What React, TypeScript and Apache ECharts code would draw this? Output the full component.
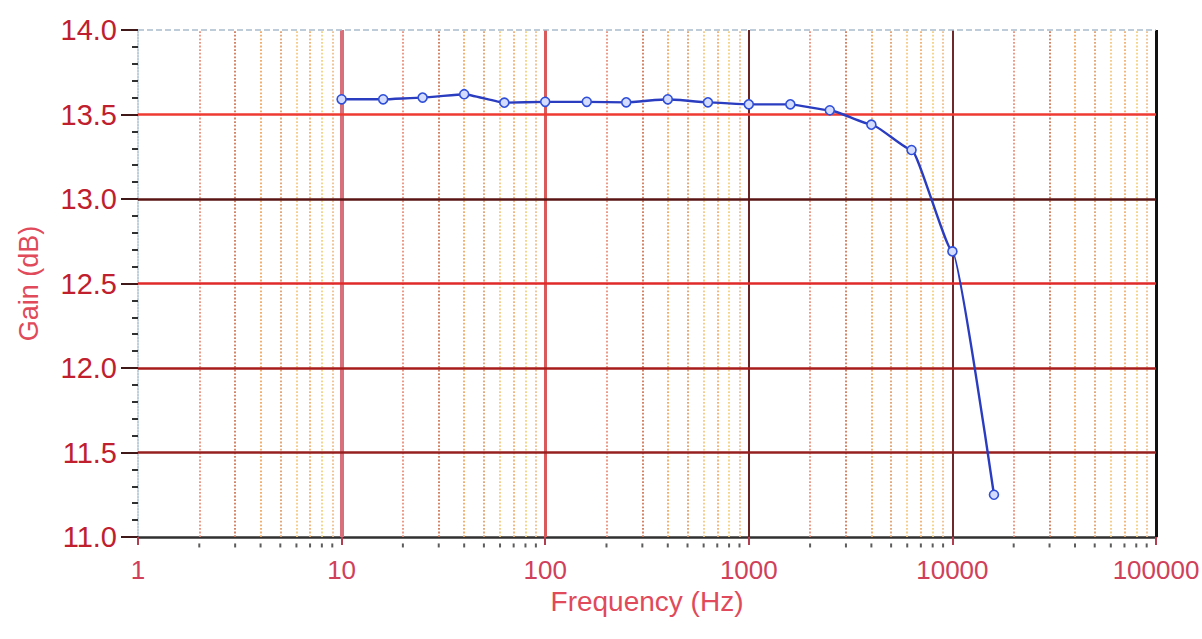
import React, { useEffect, useRef } from "react";
import * as echarts from "echarts";

const frequencies = [10, 16, 25, 40, 63, 100, 160, 250, 400, 630, 1000, 1600, 2500, 4000, 6300, 10000, 16000];
const gains = [13.59, 13.59, 13.6, 13.62, 13.57, 13.575, 13.575, 13.572, 13.59, 13.572, 13.56, 13.56, 13.525, 13.44, 13.29, 12.69, 11.25];

const decades = [1, 10, 100, 1000, 10000];
const multipliers = [2, 3, 4, 5, 6, 7, 8, 9];
const gainLevels = [11.5, 12.0, 12.5, 13.0, 13.5, 14.0];

const FONT = "'Liberation Sans', Arial, sans-serif";

const minorColors: Record<number, string> = {
  2: "#e8907a",
  3: "#d07858",
  4: "#f0a860",
  5: "#e0a070",
  6: "#f4c880",
  7: "#f0b070",
  8: "#f4d080",
  9: "#eec090",
};

const majorVertical: Record<number, { color: string; width: number }> = {
  10: { color: "#d8707c", width: 4 },
  100: { color: "#d85a5a", width: 3 },
  1000: { color: "#6a2424", width: 2 },
  10000: { color: "#6e2a2a", width: 2 },
};

const horizontalStyle: Record<string, { color: string; width: number; type?: string }> = {
  "11.5": { color: "#962020", width: 2.5 },
  "12": { color: "#a81c1c", width: 2.5 },
  "12.5": { color: "#e02a2a", width: 2.5 },
  "13": { color: "#5a1414", width: 2.5 },
  "13.5": { color: "#ee3a30", width: 2.5 },
  "14": { color: "#a8bccc", width: 1.5, type: "dashed" },
};

export default function App() {
  const ref = useRef<HTMLDivElement>(null);

  useEffect(() => {
    if (!ref.current) return;
    const chart = echarts.init(ref.current, null, { renderer: "svg" });

    const minorFreqs: number[] = [];
    decades.forEach((d) => multipliers.forEach((m) => minorFreqs.push(d * m)));

    const vLines: any[] = [];
    minorFreqs.forEach((f) => {
      const m = Math.round(f / Math.pow(10, Math.floor(Math.log10(f))));
      vLines.push({
        xAxis: f,
        lineStyle: { color: minorColors[m], width: 1.8, type: "dotted" },
      });
    });
    Object.keys(majorVertical).forEach((k) => {
      const s = majorVertical[Number(k)];
      vLines.push({ xAxis: Number(k), lineStyle: { color: s.color, width: s.width, type: "solid" } });
    });
    vLines.push({ xAxis: 100000, lineStyle: { color: "#111111", width: 3, type: "solid" } });

    const hLines: any[] = gainLevels.map((g) => {
      const s = horizontalStyle[String(g)];
      return { yAxis: g, lineStyle: { color: s.color, width: s.width, type: s.type || "solid" } };
    });

    const option: any = {
      animation: false,
      backgroundColor: "#ffffff",
      grid: { left: 138, top: 30, right: 46, bottom: 102, containLabel: false, outerBoundsMode: "none" },
      xAxis: {
        type: "log",
        logBase: 10,
        min: 1,
        max: 100000,
        name: "Frequency (Hz)",
        nameLocation: "middle",
        nameGap: 50,
        nameTextStyle: { color: "#e04a5a", fontSize: 28, fontFamily: FONT },
        axisLine: { show: true, lineStyle: { color: "#303030", width: 2.5 } },
        axisTick: { show: true, length: 8, lineStyle: { color: "#b04050", width: 2 } },
        axisLabel: {
          color: "#d0405a",
          fontSize: 26,
          fontFamily: FONT,
          margin: 20,
          formatter: (v: number) => String(Math.round(v)),
        },
        splitLine: { show: false },
      },
      yAxis: {
        type: "value",
        min: 11,
        max: 14,
        interval: 0.5,
        name: "Gain (dB)",
        nameLocation: "middle",
        nameGap: 96,
        nameRotate: 90,
        nameTextStyle: { color: "#e04a5a", fontSize: 27, fontFamily: FONT },
        axisLine: { show: true, lineStyle: { color: "#a8c0d0", width: 1.5, type: "dotted" } },
        axisTick: { show: true, length: 17, lineStyle: { color: "#401818", width: 2 } },
        minorTick: { show: true, splitNumber: 5, length: 6, lineStyle: { color: "#303030", width: 2 } },
        axisLabel: {
          color: "#c0202e",
          fontSize: 29,
          fontFamily: FONT,
          margin: 21,
          formatter: (v: number) => v.toFixed(1),
        },
        splitLine: { show: false },
      },
      series: [
        {
          type: "line",
          data: [],
          z: 1,
          silent: true,
          markLine: {
            silent: true,
            symbol: ["none", "none"],
            label: { show: false },
            animation: false,
            data: [...vLines, ...hLines],
          },
        },
        {
          type: "scatter",
          z: 2,
          silent: true,
          clip: false,
          symbol: "rect",
          symbolSize: [2, 4],
          itemStyle: { color: "#333333" },
          data: minorFreqs.map((f) => [f, 10.95]),
        },
        {
          type: "line",
          z: 5,
          data: frequencies.map((f, i) => [f, gains[i]]),
          smooth: 0.15,
          smoothMonotone: "x",
          symbol: "circle",
          symbolSize: 9,
          showSymbol: true,
          lineStyle: { color: "#2a3cc0", width: 2.4 },
          itemStyle: { color: "#d4dcff", borderColor: "#2f4fd8", borderWidth: 1.6 },
        },
      ],
    };

    chart.setOption(option);
    return () => chart.dispose();
  }, []);

  return (
    <div
      ref={ref}
      style={{ position: "absolute", left: 0, top: 0, width: 1202, height: 639, background: "#fff" }}
    />
  );
}
